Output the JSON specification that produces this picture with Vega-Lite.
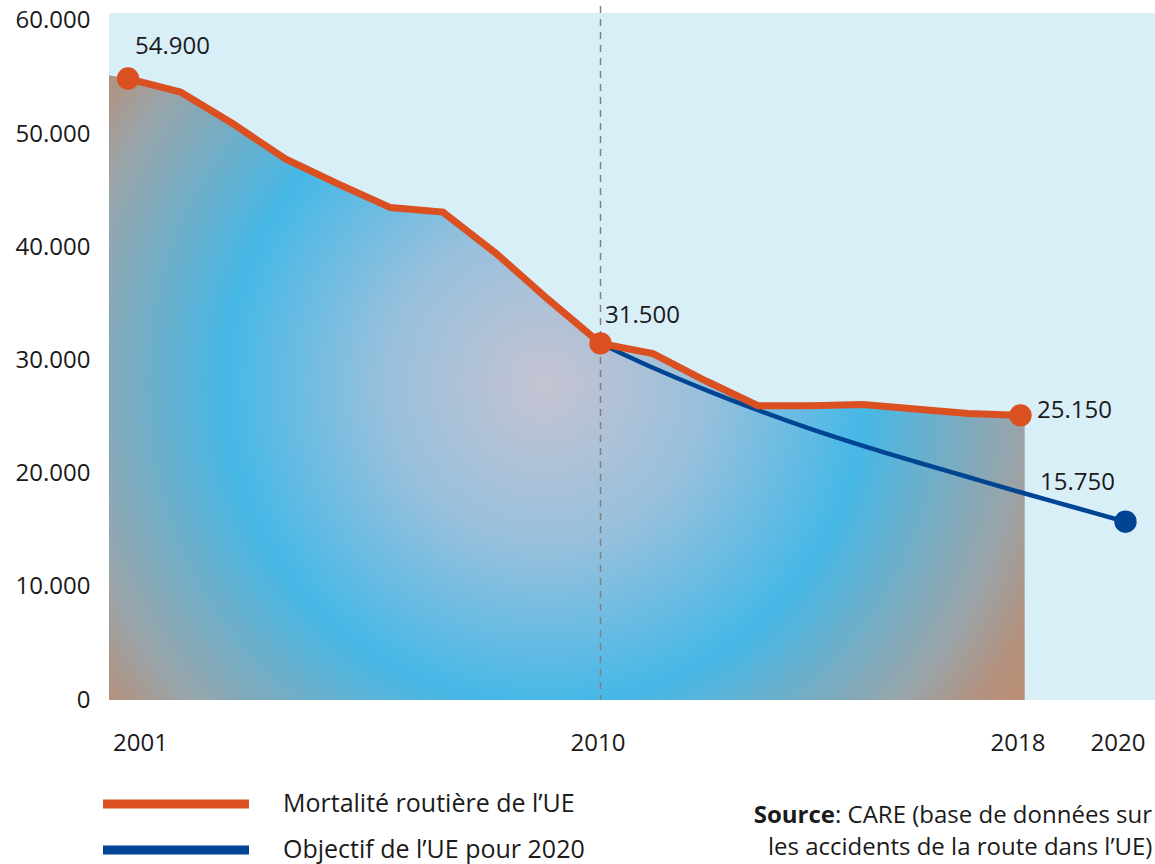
{
  "$schema": "https://vega.github.io/schema/vega-lite/v6.json",
  "width": 1046,
  "height": 687,
  "autosize": {"type": "none"},
  "padding": {"left": 109, "top": 13, "right": 0, "bottom": 164},
  "background": "white",
  "config": {
    "view": {"fill": "#d9eff8", "stroke": null},
    "font": "Open Sans",
    "locale": {"number": {"decimal": ",", "thousands": ".", "grouping": [3], "currency": ["", " €"]}},
    "axis": {"labelFont": "Open Sans", "labelFontSize": 24, "labelColor": "#1a1a1a", "ticks": false, "domain": false, "grid": false, "title": null}
  },
  "datasets": {
    "lines": [
      {"year": 2001, "value": 54900, "series": "Mortalité routière de l’UE"},
      {"year": 2002, "value": 53700, "series": "Mortalité routière de l’UE"},
      {"year": 2003, "value": 50900, "series": "Mortalité routière de l’UE"},
      {"year": 2004, "value": 47800, "series": "Mortalité routière de l’UE"},
      {"year": 2005, "value": 45600, "series": "Mortalité routière de l’UE"},
      {"year": 2006, "value": 43500, "series": "Mortalité routière de l’UE"},
      {"year": 2007, "value": 43100, "series": "Mortalité routière de l’UE"},
      {"year": 2008, "value": 39500, "series": "Mortalité routière de l’UE"},
      {"year": 2009, "value": 35400, "series": "Mortalité routière de l’UE"},
      {"year": 2010, "value": 31500, "series": "Mortalité routière de l’UE"},
      {"year": 2011, "value": 30600, "series": "Mortalité routière de l’UE"},
      {"year": 2012, "value": 28200, "series": "Mortalité routière de l’UE"},
      {"year": 2013, "value": 26000, "series": "Mortalité routière de l’UE"},
      {"year": 2014, "value": 26000, "series": "Mortalité routière de l’UE"},
      {"year": 2015, "value": 26100, "series": "Mortalité routière de l’UE"},
      {"year": 2016, "value": 25700, "series": "Mortalité routière de l’UE"},
      {"year": 2017, "value": 25300, "series": "Mortalité routière de l’UE"},
      {"year": 2018, "value": 25150, "series": "Mortalité routière de l’UE"},
      {"year": 2010, "value": 31500, "series": "Objectif de l’UE pour 2020"},
      {"year": 2011, "value": 29350, "series": "Objectif de l’UE pour 2020"},
      {"year": 2012, "value": 27400, "series": "Objectif de l’UE pour 2020"},
      {"year": 2013, "value": 25600, "series": "Objectif de l’UE pour 2020"},
      {"year": 2014, "value": 23950, "series": "Objectif de l’UE pour 2020"},
      {"year": 2015, "value": 22450, "series": "Objectif de l’UE pour 2020"},
      {"year": 2016, "value": 21050, "series": "Objectif de l’UE pour 2020"},
      {"year": 2017, "value": 19700, "series": "Objectif de l’UE pour 2020"},
      {"year": 2018, "value": 18350, "series": "Objectif de l’UE pour 2020"},
      {"year": 2019, "value": 17050, "series": "Objectif de l’UE pour 2020"},
      {"year": 2020, "value": 15750, "series": "Objectif de l’UE pour 2020"}
    ],
    "fill": [
      {"year": 2000.638, "value": 55200},
      {"year": 2001, "value": 54900},
      {"year": 2002, "value": 53700},
      {"year": 2003, "value": 50900},
      {"year": 2004, "value": 47800},
      {"year": 2005, "value": 45600},
      {"year": 2006, "value": 43500},
      {"year": 2007, "value": 43100},
      {"year": 2008, "value": 39500},
      {"year": 2009, "value": 35400},
      {"year": 2010, "value": 31500},
      {"year": 2011, "value": 30600},
      {"year": 2012, "value": 28200},
      {"year": 2013, "value": 26000},
      {"year": 2014, "value": 26000},
      {"year": 2015, "value": 26100},
      {"year": 2016, "value": 25700},
      {"year": 2017, "value": 25300},
      {"year": 2018, "value": 25150},
      {"year": 2018.08, "value": 25140}
    ]
  },
  "layer": [
    {
      "data": {"name": "fill"},
      "mark": {
        "type": "area",
        "interpolate": "linear",
        "fill": {
          "gradient": "radial",
          "x1": 0.476, "y1": 0.497, "r1": 0,
          "x2": 0.476, "y2": 0.497, "r2": 0.622,
          "stops": [
            {"offset": 0, "color": "#c5c3d2"},
            {"offset": 0.28, "color": "#98c0dc"},
            {"offset": 0.56, "color": "#46b8e7"},
            {"offset": 0.84, "color": "#9aa4a8"},
            {"offset": 0.94, "color": "#b3917e"},
            {"offset": 1, "color": "#bb8e74"}
          ]
        }
      },
      "encoding": {
        "x": {
          "field": "year", "type": "quantitative",
          "scale": {"domain": [2000.638, 2020.562], "nice": false, "zero": false},
          "axis": {
            "values": [2001, 2010, 2018, 2020],
            "format": "d",
            "labelPadding": 31,
            "labelFlush": false,
            "labelOffset": {"condition": [{"test": "datum.value === 2001", "value": 12}, {"test": "datum.value === 2020", "value": -8}], "value": -3}
          }
        },
        "y": {
          "field": "value", "type": "quantitative",
          "scale": {"domain": [0, 60690], "nice": false},
          "axis": {"values": [0, 10000, 20000, 30000, 40000, 50000, 60000], "format": ",d", "labelPadding": 19}
        }
      }
    },
    {
      "data": {"name": "lines"},
      "transform": [{"filter": "false"}],
      "mark": {"type": "line", "strokeWidth": 9},
      "encoding": {
        "x": {"field": "year", "type": "quantitative"},
        "y": {"field": "value", "type": "quantitative"},
        "color": {
          "field": "series", "type": "nominal",
          "scale": {"domain": ["Mortalité routière de l’UE", "Objectif de l’UE pour 2020"], "range": ["#da5021", "#004494"]},
          "legend": {
            "title": null, "orient": "none", "legendX": -10.5, "legendY": 776, "padding": 0,
            "symbolType": "stroke", "symbolSize": 21316, "symbolStrokeWidth": 9,
            "clipHeight": 30, "rowPadding": 16, "labelOffset": 29.5,
            "labelFont": "Open Sans", "labelFontSize": 25, "labelColor": "#1a1a1a", "labelLimit": 500
          }
        }
      }
    },
    {
      "data": {"values": [{}]},
      "mark": {"type": "rule", "color": "#808080", "strokeWidth": 1.5, "strokeDash": [7, 6]},
      "encoding": {
        "x": {"datum": 2010, "type": "quantitative"},
        "y": {"datum": 61300, "type": "quantitative"},
        "y2": {"datum": 0}
      }
    },
    {
      "data": {"name": "lines"},
      "transform": [{"filter": "datum.series === 'Objectif de l’UE pour 2020'"}],
      "mark": {"type": "line", "interpolate": "monotone", "strokeWidth": 4.5, "color": "#004494"},
      "encoding": {
        "x": {"field": "year", "type": "quantitative"},
        "y": {"field": "value", "type": "quantitative"}
      }
    },
    {
      "data": {"name": "lines"},
      "transform": [{"filter": "datum.series === 'Mortalité routière de l’UE'"}],
      "mark": {"type": "line", "strokeWidth": 7, "color": "#da5021"},
      "encoding": {
        "x": {"field": "year", "type": "quantitative"},
        "y": {"field": "value", "type": "quantitative"}
      }
    },
    {
      "data": {"name": "lines"},
      "transform": [{"filter": "datum.series === 'Mortalité routière de l’UE' && (datum.year === 2001 || datum.year === 2010 || datum.year === 2018)"}],
      "mark": {"type": "point", "filled": true, "opacity": 1, "size": 500, "color": "#da5021"},
      "encoding": {
        "x": {"field": "year", "type": "quantitative"},
        "y": {"field": "value", "type": "quantitative"}
      }
    },
    {
      "data": {"name": "lines"},
      "transform": [{"filter": "datum.series === 'Objectif de l’UE pour 2020' && datum.year === 2020"}],
      "mark": {"type": "point", "filled": true, "opacity": 1, "size": 500, "color": "#004494"},
      "encoding": {
        "x": {"field": "year", "type": "quantitative"},
        "y": {"field": "value", "type": "quantitative"}
      }
    },
    {
      "data": {"name": "lines"},
      "transform": [{"filter": "datum.series === 'Mortalité routière de l’UE' && datum.year === 2001"}],
      "mark": {"type": "text", "align": "left", "baseline": "middle", "dx": 7, "dy": -32, "fontSize": 24, "color": "#1a1a1a"},
      "encoding": {
        "x": {"field": "year", "type": "quantitative"},
        "y": {"field": "value", "type": "quantitative"},
        "text": {"field": "value", "type": "quantitative", "format": ",d"}
      }
    },
    {
      "data": {"name": "lines"},
      "transform": [{"filter": "datum.series === 'Mortalité routière de l’UE' && datum.year === 2010"}],
      "mark": {"type": "text", "align": "left", "baseline": "middle", "dx": 4.5, "dy": -27, "fontSize": 24, "color": "#1a1a1a"},
      "encoding": {
        "x": {"field": "year", "type": "quantitative"},
        "y": {"field": "value", "type": "quantitative"},
        "text": {"field": "value", "type": "quantitative", "format": ",d"}
      }
    },
    {
      "data": {"name": "lines"},
      "transform": [{"filter": "datum.series === 'Mortalité routière de l’UE' && datum.year === 2018"}],
      "mark": {"type": "text", "align": "left", "baseline": "middle", "dx": 16.5, "dy": -4, "fontSize": 24, "color": "#1a1a1a"},
      "encoding": {
        "x": {"field": "year", "type": "quantitative"},
        "y": {"field": "value", "type": "quantitative"},
        "text": {"field": "value", "type": "quantitative", "format": ",d"}
      }
    },
    {
      "data": {"name": "lines"},
      "transform": [{"filter": "datum.series === 'Objectif de l’UE pour 2020' && datum.year === 2020"}],
      "mark": {"type": "text", "align": "left", "baseline": "middle", "dx": -85.5, "dy": -39, "fontSize": 24, "color": "#1a1a1a"},
      "encoding": {
        "x": {"field": "year", "type": "quantitative"},
        "y": {"field": "value", "type": "quantitative"},
        "text": {"field": "value", "type": "quantitative", "format": ",d"}
      }
    },
    {
      "data": {"values": [{}]},
      "mark": {"type": "text", "align": "right", "baseline": "middle", "fontSize": 24, "fontWeight": "bold", "color": "#1a1a1a", "text": "Source"},
      "encoding": {
        "x": {"datum": 2014.467, "type": "quantitative"},
        "y": {"datum": -10250, "type": "quantitative"}
      }
    },
    {
      "data": {"values": [{}]},
      "mark": {"type": "text", "align": "left", "baseline": "middle", "fontSize": 24, "color": "#1a1a1a", "text": ": CARE (base de données sur"},
      "encoding": {
        "x": {"datum": 2014.467, "type": "quantitative"},
        "y": {"datum": -10250, "type": "quantitative"}
      }
    },
    {
      "data": {"values": [{}]},
      "mark": {"type": "text", "align": "left", "baseline": "middle", "fontSize": 24, "color": "#1a1a1a", "text": "les accidents de la route dans l’UE)"},
      "encoding": {
        "x": {"datum": 2013.19, "type": "quantitative"},
        "y": {"datum": -13074, "type": "quantitative"}
      }
    }
  ]
}
